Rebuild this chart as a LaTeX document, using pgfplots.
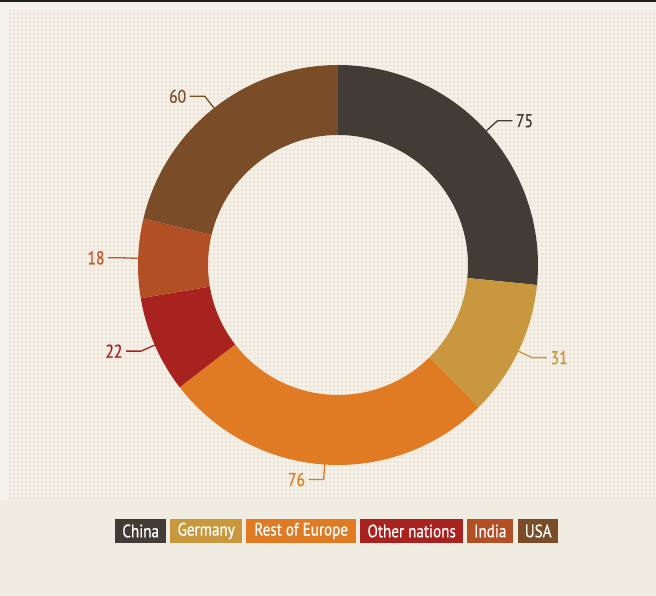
\documentclass[border=0pt]{standalone}
\usepackage{pgfplots}
\pgfplotsset{compat=1.18}
\usepackage{pgfplotstable}
\usepackage{fontspec}
\setmainfont{PT Sans}
\newfontfamily\narrowfont[FakeStretch=0.84, FakeBold=0.6]{PT Sans}

\definecolor{cChina}{HTML}{433C36}
\definecolor{cGermany}{HTML}{C9973E}
\definecolor{cEurope}{HTML}{E07B24}
\definecolor{cOther}{HTML}{A82320}
\definecolor{cIndia}{HTML}{B24F25}
\definecolor{cUSA}{HTML}{7B4C28}
\definecolor{lIndia}{HTML}{C05A2C}
\definecolor{pagebg}{HTML}{F0ECE1}
\definecolor{stripbg}{HTML}{F3F2EC}
\definecolor{dotdark}{HTML}{EAE3D4}
\definecolor{dotlight}{HTML}{F4F0E8}
\definecolor{topbar}{HTML}{221E1B}

% shares, clockwise from 12 o'clock
\pgfplotstableread{
country value fill label
China   75 cChina   cChina
Germany 31 cGermany cGermany
Europe  76 cEurope  cEurope
Other   22 cOther   cOther
India   18 cIndia   lIndia
USA     60 cUSA     cUSA
}\shares

% angles of each slice
\def\total{0}
\pgfplotsforeachungrouped \i in {0,...,5}{%
  \pgfplotstablegetelem{\i}{value}\of\shares
  \pgfmathsetmacro\total{\total+\pgfplotsretval}%
}
\pgfmathsetmacro\degper{360/\total}
\def\cum{0}
\pgfplotsforeachungrouped \i in {0,...,5}{%
  \pgfplotstablegetelem{\i}{value}\of\shares
  \let\sliceval\pgfplotsretval
  \pgfmathsetmacro\angA{90-\degper*\cum}%
  \pgfmathsetmacro\cum{\cum+\sliceval}%
  \pgfmathsetmacro\angB{90-\degper*\cum}%
  \pgfmathsetmacro\angM{(\angA+\angB)/2}%
  \pgfmathsetmacro\dirM{cos(\angM)<0 ? -1 : 1}%
  \expandafter\xdef\csname sA\i\endcsname{\angA}%
  \expandafter\xdef\csname sB\i\endcsname{\angB}%
  \expandafter\xdef\csname sM\i\endcsname{\angM}%
  \expandafter\xdef\csname sD\i\endcsname{\dirM}%
  \expandafter\xdef\csname sV\i\endcsname{\sliceval}%
  \ifdim\dirM pt<0pt
    \expandafter\xdef\csname sN\i\endcsname{east}%
  \else
    \expandafter\xdef\csname sN\i\endcsname{west}%
  \fi
  \pgfplotstablegetelem{\i}{fill}\of\shares
  \edef\tmp{\noexpand\colorlet{slice\i}{\pgfplotsretval}}\tmp
  \pgfplotstablegetelem{\i}{label}\of\shares
  \edef\tmp{\noexpand\colorlet{lbl\i}{\pgfplotsretval}}\tmp
}

\newcommand\lblfont{\narrowfont\fontsize{18.5}{18.5}\selectfont}
\newcommand\legfont{\narrowfont\fontsize{18}{18}\selectfont}

\begin{document}
\begin{tikzpicture}
\begin{axis}[
    x=1pt, y=1pt,
    xmin=0, xmax=656, ymin=0, ymax=596,
    hide axis, clip=false
]
% page and textured panel
\fill[pagebg] (axis cs:0,0) rectangle (axis cs:656,596);
\fill[stripbg] (axis cs:0,96) rectangle (axis cs:656,594);
\fill[topbar] (axis cs:0,594) rectangle (axis cs:656,596);
\fill[dotdark] (axis cs:9,96) rectangle (axis cs:656,586);
\begin{scope}
\clip (axis cs:9,96) rectangle (axis cs:656,586);
\draw[dotlight, line width=1.5pt, step=4pt] (axis cs:8,94) grid (axis cs:658,588);
\end{scope}

% ring
\pgfplotsinvokeforeach{0,...,5}{
  \fill[slice#1, shift={(axis cs:338,331)}]
    (\csname sA#1\endcsname:200pt)
    arc[start angle=\csname sA#1\endcsname, end angle=\csname sB#1\endcsname, radius=200pt]
    -- (\csname sB#1\endcsname:130pt)
    arc[start angle=\csname sB#1\endcsname, end angle=\csname sA#1\endcsname, radius=130pt]
    -- cycle;
  \draw[lbl#1, line width=1.3pt, shift={(axis cs:338,331)}]
    (\csname sM#1\endcsname:199pt) -- (\csname sM#1\endcsname:215pt)
    -- ++(\csname sD#1\endcsname*15pt,0)
    node[anchor=\csname sN#1\endcsname, inner sep=3pt, text=lbl#1, font=\lblfont]
      {\csname sV#1\endcsname};
}

% legend
\path[every node/.style={anchor=west, text=white, inner sep=0pt,
      minimum height=24pt, font=\legfont}]
  (axis cs:115,65) node[fill=cChina, minimum width=51pt] {China}
  (axis cs:170,65) node[fill=cGermany, minimum width=72pt] {Germany}
  (axis cs:246,65) node[fill=cEurope, minimum width=110pt] {Rest of Europe}
  (axis cs:360,65) node[fill=cOther, minimum width=103pt] {Other nations}
  (axis cs:467,65) node[fill=cIndia, minimum width=46pt] {India}
  (axis cs:518,65) node[fill=cUSA, minimum width=40pt] {USA};
\end{axis}
\end{tikzpicture}
\end{document}
